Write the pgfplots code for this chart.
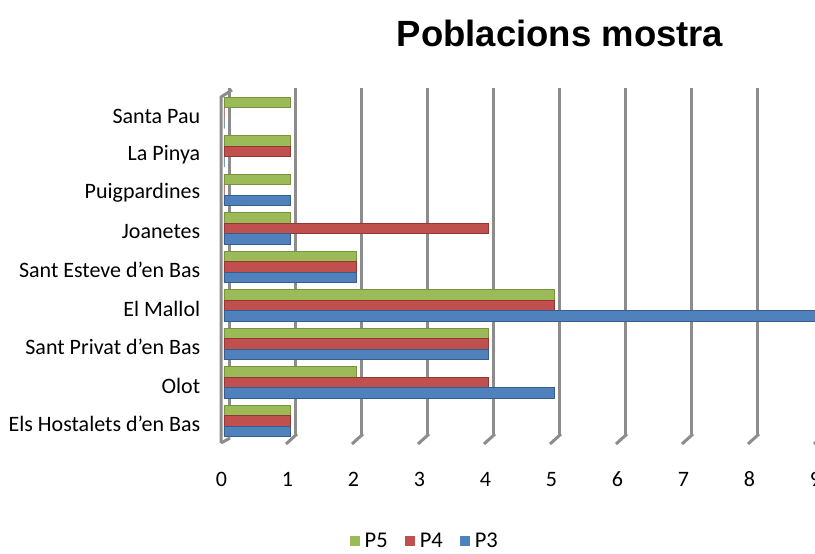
\documentclass[border=0pt]{standalone}
\usepackage{pgfplots}
\pgfplotsset{compat=1.18}
\usepackage{fontspec}
\setmainfont{Carlito}
\newfontfamily\titlefont{Liberation Sans}
\definecolor{cgreen}{HTML}{9BBB59}
\definecolor{cred}{HTML}{C0504D}
\definecolor{cblue}{HTML}{4F81BD}
\definecolor{dgreen}{HTML}{77933C}
\definecolor{dred}{HTML}{943634}
\definecolor{dblue}{HTML}{385D8A}
\definecolor{gridgray}{HTML}{8C8C8C}
\begin{document}
\begin{tikzpicture}[x=1pt,y=1pt]
\begin{axis}[
  at={(224pt,113.75pt)}, anchor=south west,
  scale only axis, width=594pt, height=346.5pt,
  xmin=0, xmax=9, ymin=-0.5, ymax=8.5,
  clip=false,
  xbar, bar width=10.5pt,
  ytick={0,...,8},
  yticklabels={Els Hostalets d’en Bas, Olot, Sant Privat d’en Bas, El Mallol, Sant Esteve d’en Bas, Joanetes, Puigpardines, La Pinya, Santa Pau},
  xtick={0,...,9},
  tick style={draw=none},
  axis line style={draw=none},
  /pgf/number format/assume math mode=true,
  xmajorgrids,
  major grid style={gridgray, line width=3pt, xshift=6pt, yshift=6pt},
  xticklabel style={font=\fontsize{22}{26}\selectfont, anchor=base, yshift=-46.5pt, xshift=-2.5pt},
  yticklabel style={font=\fontsize{22}{26}\selectfont, xshift=-16pt, yshift=-3pt},
  legend style={at={(0.338,-0.291)}, anchor=center, draw=none, fill=none,
    legend columns=3, font=\fontsize{22.5}{26}\selectfont,
    /tikz/every odd column/.append style={column sep=3pt},
    /tikz/every even column/.append style={column sep=15pt}},
  legend image code/.code={\fill[#1,draw=none] (0pt,-5pt) rectangle (10pt,5pt);},
]
\addplot[fill=cgreen, draw=dgreen, line width=0.6pt, bar shift=10.5pt]
  coordinates {(1,0) (2,1) (4,2) (5,3) (2,4) (1,5) (1,6) (1,7) (1,8)};
\addplot[fill=cred, draw=dred, line width=0.6pt, bar shift=0pt]
  coordinates {(1,0) (4,1) (4,2) (5,3) (2,4) (4,5) (0,6) (1,7) (0,8)};
\addplot[fill=cblue, draw=dblue, line width=0.6pt, bar shift=-10.5pt]
  coordinates {(1,0) (5,1) (4,2) (9,3) (2,4) (1,5) (1,6) (0,7) (0,8)};
\legend{P5, P4, P3}
\end{axis}
% 3D wall decoration
\draw[gridgray, line width=3pt] (221,111) -- (221,457) -- (232,464);
\draw[gridgray, line width=3pt] (221,111) -- (230,116);
\foreach \v in {1,...,9} {
  \draw[gridgray, line width=3pt] ({224+66*\v+7},120) -- ({224+66*\v-4},110);
}
\node[font=\titlefont\bfseries\fontsize{36.5}{42}\selectfont] at (560,521) {Poblacions mostra};
\pgfresetboundingbox
\path (0,0) rectangle (815,554);
\end{tikzpicture}
\end{document}
